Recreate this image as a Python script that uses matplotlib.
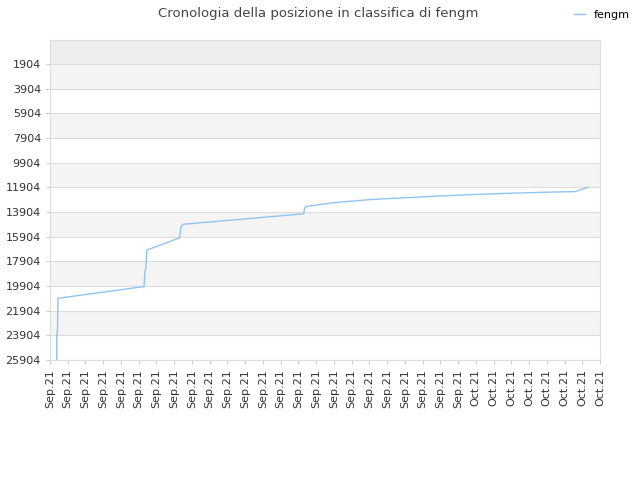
import matplotlib
matplotlib.use("Agg")
import matplotlib.pyplot as plt

labels = ["Sep.21"] * 24 + ["Oct.21"] * 8
days = [0.38, 0.38, 0.42, 0.45, 5.3, 5.35, 5.4, 5.45, 7.3, 7.38, 7.5, 14.3, 14.35, 14.45, 16.0, 18.0, 20.0, 22.0, 24.0, 26.0, 28.0, 29.6, 30.3]
ranks = [25904, 23800, 23600, 20900, 19950, 18700, 18500, 17000, 16000, 15100, 14900, 14050, 13600, 13450, 13150, 12900, 12750, 12600, 12480, 12380, 12300, 12250, 11904]
yticks = list(range(1904, 25905, 2000))

fig = plt.figure(figsize=(6.4, 4.8), dpi=100)
ax = fig.add_axes([50/640, 120/480, 550/640, 320/480])
ymin, ymax = -42, 25904
bounds = [ymin] + yticks
for i in range(len(bounds) - 1):
    col = "#eeeeee" if i == 0 else ("#f4f4f4" if i % 2 == 1 else "#ffffff")
    ax.axhspan(bounds[i], bounds[i+1], color=col, zorder=0, lw=0)
for y in yticks:
    ax.axhline(y, color="#dddddd", lw=0.8, zorder=1)
ax.plot(days, ranks, color="#90c4f0", lw=1, label="fengm", zorder=2)
ax.set_xlim(0, 31)
ax.set_ylim(ymax, ymin)
ax.set_yticks(yticks)
ax.set_yticklabels([str(v) for v in yticks], fontsize=8, color="#333333")
ax.set_xticks(range(32))
ax.set_xticklabels(labels, rotation=90, fontsize=8, color="#333333")
for s in ax.spines.values():
    s.set_color("#dddddd")
ax.tick_params(length=3, color="#cccccc")
fig.suptitle("Cronologia della posizione in classifica di fengm", x=318/640, y=0.985, fontsize=9.5, color="#444444")
fig.legend(loc="upper right", bbox_to_anchor=(1.0, 1.0), frameon=False, fontsize=8, handlelength=1)
fig.savefig("out.png")
